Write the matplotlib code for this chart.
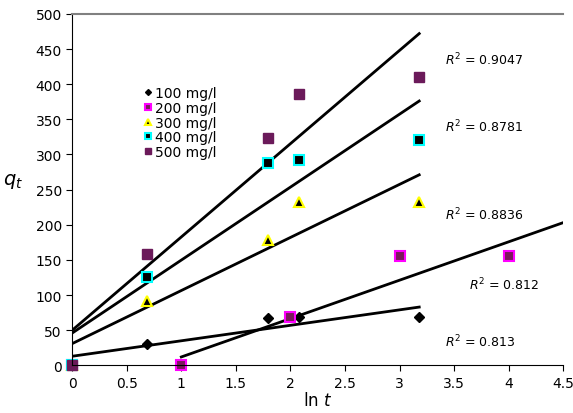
import numpy as np
from matplotlib import pyplot as plt

lnt = [0, 0.69, 1.79, 2.08, 3.18]
q100 = [0, 31, 68, 69, 69]
q300 = [0, 92, 179, 232, 232]
q400 = [0, 126, 288, 292, 320]
q500 = [0, 159, 324, 386, 410]
lnt200 = [0, 1, 2, 3, 4]
q200 = [0, 0, 69, 155, 155]

# fitted lines: slope, intercept, x range
fits = [(22.0, 13, 0, 3.18), (54.6, -42.6, 1, 4.5), (75.5, 31, 0, 3.18),
        (103.8, 46, 0, 3.18), (132.7, 50, 0, 3.18)]
r2 = ['0.813', '0.812', '0.8836', '0.8781', '0.9047']
r2_pos = [(3.42, 35), (3.64, 116), (3.42, 215), (3.42, 340), (3.42, 436)]

fig = plt.figure(figsize=(5.73, 4.14), dpi=100)
ax = fig.add_axes([0.126, 0.115, 0.857, 0.849])

for m, b, x0, x1 in fits:
    xs = np.array([x0, x1])
    ax.plot(xs, m * xs + b, color='black', lw=2)

ax.plot(lnt, q100, 'D', color='black', ms=5, label='100 mg/l', clip_on=False)
ax.plot(lnt200, q200, 's', mfc='#7a1a5a', mec='magenta', mew=1.5, ms=7, label='200 mg/l', clip_on=False)
ax.plot(lnt, q300, '^', mfc='black', mec='yellow', mew=1.5, ms=7, label='300 mg/l', clip_on=False)
ax.plot(lnt, q400, 's', mfc='black', mec='cyan', mew=1.5, ms=7, label='400 mg/l', clip_on=False)
ax.plot(lnt, q500, 's', mfc='#6b1a5a', mec='#6b1a5a', ms=7, label='500 mg/l', clip_on=False)

for t, (x, y) in zip(r2, r2_pos):
    ax.text(x, y, '$R^2$ = ' + t, fontsize=9, va='center')

ax.set_xlim(0, 4.5)
ax.set_ylim(0, 500)
ax.set_xticks(np.arange(0, 4.51, 0.5))
ax.set_xticklabels(['0', '0.5', '1', '1.5', '2', '2.5', '3', '3.5', '4', '4.5'])
ax.set_yticks(range(0, 501, 50))
ax.tick_params(labelsize=10, direction='out', length=4)
ax.spines['right'].set_visible(False)
ax.spines['top'].set_color('gray')
ax.spines['top'].set_linewidth(1.5)
ax.set_xlabel('ln $t$', fontsize=12, labelpad=1)
ax.set_ylabel('$q_t$', fontsize=14, rotation=0, labelpad=16)
ax.legend(loc='upper left', bbox_to_anchor=(0.12, 0.83), frameon=False, fontsize=10,
          handlelength=0.6, handletextpad=0.2, labelspacing=0.05, markerscale=0.6)

fig.savefig('out.png')
